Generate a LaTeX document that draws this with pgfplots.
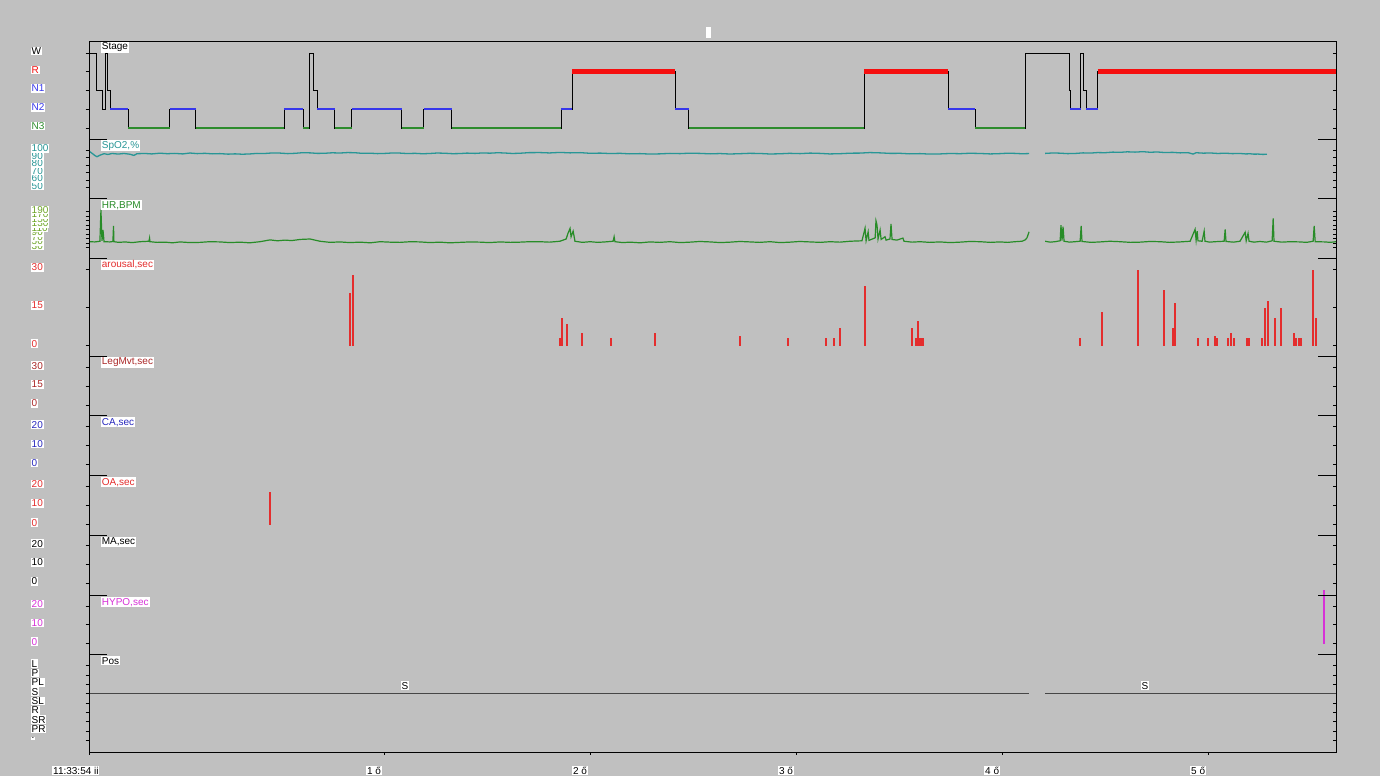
\documentclass[border=0pt]{standalone}
\usepackage{pgfplots}
\pgfplotsset{compat=1.18}
\usepackage{fontspec}
\setmainfont{Liberation Sans}
\definecolor{bg}{RGB}{192,192,192}
\definecolor{stN2}{RGB}{55,55,235}
\definecolor{stN3}{RGB}{45,140,45}
\definecolor{stR}{RGB}{245,15,15}
\definecolor{spo}{RGB}{40,150,150}
\definecolor{hrc}{RGB}{40,140,40}
\definecolor{hrl}{RGB}{110,165,40}
\definecolor{aro}{RGB}{228,45,45}
\definecolor{leg}{RGB}{170,40,40}
\definecolor{cac}{RGB}{40,40,190}
\definecolor{hyp}{RGB}{215,50,215}
\definecolor{posc}{RGB}{70,70,70}
\pgfplotsset{
  panel/.style={
    scale only axis, width=623.5pt, anchor=north west,
    xmin=11.565, xmax=17.618,
    axis line style={draw=none},
    xtick=\empty,
    tick align=center,
    major tick length=1.7pt,
    ytick style={xshift=-0.85pt, black, line width=0.5pt},
    yticklabel style={anchor=west, xshift=-28.4pt, yshift=1pt, fill=white, inner sep=0.4pt, font=\fontsize{5}{5}\selectfont},
    clip mode=individual,
    unbounded coords=jump,
  },
}
\tikzset{
  sep/.style={black, line width=0.5pt},
  ttl/.style={anchor=west, fill=white, inner sep=0.5pt, font=\fontsize{5}{5}\selectfont, xshift=5.75pt, yshift=-3.25pt},
}
\newcommand{\seps}{%
  \draw[sep] (rel axis cs:0,1) -- ([xshift=9pt]rel axis cs:0,1);
  \draw[sep] (rel axis cs:1,1) -- ([xshift=-9pt]rel axis cs:1,1);}
\begin{document}
\begin{tikzpicture}
\fill[bg] (0,0) rectangle (690pt,-388pt);
\fill[white] (353pt,-13.5pt) rectangle (355.5pt,-19pt);

% Stage
\begin{axis}[panel, at={(44.5pt,-20.5pt)}, height=49.15pt, ymin=-0.603, ymax=4.64,
  ytick={0,1,2,3,4},
  yticklabels={\textcolor{stN3}{N3},\textcolor{stN2}{N2},\textcolor{stN2}{N1},\textcolor{stR}{R},W}]
\addplot[const plot, black, line width=0.5pt] coordinates {(11.565,4) (11.599,2) (11.630,1) (11.643,4) (11.654,2) (11.667,1) (11.756,0) (11.958,1) (12.083,0) (12.513,1) (12.606,0) (12.634,4) (12.657,2) (12.673,1) (12.758,0) (12.840,1) (13.084,0) (13.190,1) (13.326,0) (13.858,1) (13.911,3) (14.411,1) (14.476,0) (15.327,3) (15.736,1) (15.867,0) (16.110,4) (16.322,2) (16.327,1) (16.378,4) (16.393,2) (16.406,1) (16.462,3) (17.618,3)};
\addplot[stN2, line width=1pt] coordinates {(11.667,1)(11.756,1)(11.8,nan)(11.958,1)(12.083,1)(12.1,nan)(12.513,1)(12.606,1)(12.62,nan)(12.673,1)(12.758,1)(12.77,nan)(12.840,1)(13.084,1)(13.1,nan)(13.190,1)(13.326,1)(13.4,nan)(13.858,1)(13.911,1)(14.0,nan)(14.411,1)(14.476,1)(14.5,nan)(15.736,1)(15.867,1)(15.9,nan)(16.327,1)(16.378,1)(16.39,nan)(16.406,1)(16.462,1)};
\addplot[stN3, line width=0.75pt] coordinates {(11.756,0)(11.958,0)(12.0,nan)(12.083,0)(12.513,0)(12.55,nan)(12.606,0)(12.634,0)(12.65,nan)(12.758,0)(12.840,0)(12.9,nan)(13.084,0)(13.190,0)(13.2,nan)(13.326,0)(13.858,0)(13.9,nan)(14.476,0)(15.327,0)(15.4,nan)(15.867,0)(16.110,0)};
\addplot[stR, line width=2.3pt] coordinates {(13.911,3)(14.411,3)(14.5,nan)(15.327,3)(15.736,3)(15.8,nan)(16.462,3)(17.618,3)};
\node[ttl] at (rel axis cs:0,1) {Stage};
\end{axis}

% SpO2
\begin{axis}[panel, at={(44.5pt,-69.65pt)}, height=29.7pt, ymin=35.8, ymax=114.6,
  ytick={50,60,70,80,90,100}, yticklabels={50,60,70,80,90,100},
  yticklabel style={text=spo}]
\addplot[spo, line width=0.65pt] coordinates {(11.565,99.0)(11.580,96.0)(11.594,93.0)(11.604,91.5)(11.618,93.5)(11.638,95.5)(11.657,94.5)(11.677,95.8)(11.706,95.0)(11.735,95.8)(11.764,94.8)(11.783,93.2)(11.798,95.5)(11.837,95.8)(11.870,95.2)(11.910,96.2)(11.945,95.5)(11.982,95.9)(12.020,95.2)(12.055,96.4)(12.090,95.6)(12.128,96.0)(12.165,95.3)(12.201,95.6)(12.240,94.9)(12.274,95.3)(12.310,94.8)(12.347,95.2)(12.380,95.9)(12.419,95.8)(12.455,96.5)(12.492,96.3)(12.530,95.6)(12.565,96.0)(12.600,96.8)(12.638,96.6)(12.675,95.9)(12.711,96.1)(12.745,96.7)(12.783,96.4)(12.820,97.0)(12.856,96.8)(12.890,96.0)(12.929,96.2)(12.965,95.6)(13.002,95.9)(13.040,96.5)(13.075,96.3)(13.110,95.7)(13.148,96.0)(13.185,95.4)(13.220,95.8)(13.255,96.4)(13.293,96.1)(13.330,95.5)(13.366,95.7)(13.400,96.3)(13.439,95.9)(13.475,96.5)(13.512,96.2)(13.550,96.8)(13.584,96.4)(13.620,95.8)(13.657,96.1)(13.700,96.9)(13.754,97.0)(13.800,96.5)(13.851,97.2)(13.900,96.6)(13.949,96.9)(14.000,96.0)(14.046,96.3)(14.095,95.7)(14.143,96.0)(14.190,95.3)(14.240,95.6)(14.290,95.0)(14.337,95.3)(14.385,95.9)(14.434,95.6)(14.480,96.2)(14.531,95.9)(14.580,95.3)(14.628,95.7)(14.675,95.1)(14.725,95.5)(14.770,96.0)(14.822,95.8)(14.870,95.1)(14.919,95.4)(14.965,96.0)(15.017,95.6)(15.065,96.3)(15.114,95.9)(15.160,95.2)(15.211,95.5)(15.260,96.2)(15.308,96.3)(15.355,97.0)(15.405,96.6)(15.455,95.9)(15.502,96.0)(15.550,95.3)(15.599,95.6)(15.645,95.0)(15.696,95.2)(15.745,95.8)(15.793,95.5)(15.840,96.1)(15.890,95.8)(15.940,95.2)(15.987,95.6)(16.025,96.2)(16.060,95.9)(16.095,95.4)(16.128,95.7)(16.15,nan)(16.206,95.9)(16.245,96.5)(16.279,96.2)(16.315,95.6)(16.351,95.8)(16.390,96.6)(16.424,96.3)(16.460,97.0)(16.497,96.8)(16.535,97.6)(16.570,97.3)(16.605,98.0)(16.643,97.6)(16.680,98.2)(16.716,97.4)(16.750,97.8)(16.788,97.0)(16.825,97.3)(16.861,96.6)(16.900,96.9)(16.924,95.0)(16.939,96.8)(16.975,96.2)(17.007,96.5)(17.045,95.8)(17.080,96.2)(17.115,95.6)(17.152,95.8)(17.180,95.2)(17.201,95.4)(17.220,94.9)(17.240,95.0)(17.262,94.6)(17.283,94.7)};
\seps
\node[ttl, text=spo] at (rel axis cs:0,1) {SpO2,\%};
\end{axis}

% HR
\begin{axis}[panel, at={(44.5pt,-99.35pt)}, height=29.8pt, ymin=-15.8, ymax=249.1,
  ytick={30,50,70,90,110,130,150,170,190}, yticklabels={30,50,70,90,110,130,150,170,190},
  yticklabel style={text=hrl}]
\addplot[hrc, line width=0.6pt] coordinates {(11.565,58)(11.594,57)(11.618,60)(11.623,200)(11.628,62)(11.633,110)(11.638,58)(11.667,57)(11.681,59)(11.684,128)(11.686,58)(11.710,55)(11.740,57)(11.775,54)(11.813,58)(11.856,60)(11.859,74)(11.861,58)(11.895,55)(11.934,56)(11.970,53)(12.007,57)(12.055,54)(12.104,55)(12.150,58)(12.201,57)(12.250,54)(12.298,56)(12.345,53)(12.395,58)(12.444,66)(12.480,62)(12.516,65)(12.550,63)(12.589,68)(12.638,70)(12.686,60)(12.735,55)(12.783,57)(12.830,54)(12.881,56)(12.930,53)(12.978,58)(13.025,56)(13.075,55)(13.125,58)(13.172,57)(13.220,54)(13.269,56)(13.315,53)(13.366,55)(13.415,57)(13.463,56)(13.510,54)(13.560,57)(13.610,55)(13.657,56)(13.705,58)(13.754,58)(13.800,56)(13.851,60)(13.881,70)(13.890,95)(13.900,117)(13.905,80)(13.915,105)(13.924,60)(13.960,55)(13.997,58)(14.035,55)(14.070,57)(14.109,60)(14.114,80)(14.118,58)(14.155,54)(14.191,56)(14.240,53)(14.288,57)(14.335,55)(14.385,58)(14.435,54)(14.482,56)(14.530,59)(14.580,57)(14.630,54)(14.677,56)(14.725,59)(14.774,57)(14.820,55)(14.871,58)(14.920,54)(14.968,56)(15.015,59)(15.065,57)(15.115,55)(15.162,58)(15.210,56)(15.259,60)(15.317,62)(15.332,118)(15.337,62)(15.347,102)(15.351,64)(15.381,75)(15.385,151)(15.390,132)(15.395,70)(15.405,110)(15.410,68)(15.429,80)(15.434,65)(15.453,70)(15.458,137)(15.463,68)(15.487,65)(15.516,74)(15.521,60)(15.560,56)(15.599,58)(15.645,55)(15.696,57)(15.745,54)(15.793,56)(15.840,59)(15.890,58)(15.940,55)(15.987,57)(16.025,55)(16.060,58)(16.094,60)(16.109,66)(16.118,75)(16.128,102)(16.15,nan)(16.206,60)(16.230,56)(16.254,58)(16.279,62)(16.283,132)(16.288,63)(16.293,125)(16.298,60)(16.325,56)(16.351,58)(16.376,60)(16.381,128)(16.385,59)(16.430,55)(16.473,57)(16.520,60)(16.570,58)(16.620,55)(16.667,56)(16.715,59)(16.764,58)(16.810,55)(16.861,57)(16.910,60)(16.934,113)(16.939,64)(16.944,105)(16.948,62)(16.968,60)(16.978,105)(16.982,60)(17.005,56)(17.031,58)(17.075,60)(17.080,113)(17.084,59)(17.120,56)(17.152,60)(17.177,100)(17.182,62)(17.191,95)(17.196,60)(17.220,56)(17.249,59)(17.280,56)(17.308,62)(17.313,162)(17.317,60)(17.355,56)(17.395,58)(17.444,57)(17.475,55)(17.507,60)(17.512,128)(17.517,58)(17.565,57)(17.590,55)(17.618,58)};
\seps
\node[ttl, text=hrc] at (rel axis cs:0,1) {HR,BPM};
\end{axis}

% arousal
\begin{axis}[panel, at={(44.5pt,-129.15pt)}, height=48.85pt, ymin=-4.04, ymax=34.32,
  ytick={0,15,30}, yticklabels={0,15,30}, yticklabel style={text=aro}]
\addplot[aro, line width=1pt] coordinates {
(12.833,0)(12.833,20.8)(12.833,nan)(12.845,0)(12.845,27.8)(12.845,nan)
(13.851,0)(13.851,2.9)(13.851,nan)(13.863,0)(13.863,10.8)(13.863,nan)
(13.885,0)(13.885,8.5)(13.885,nan)(13.957,0)(13.957,5.0)(13.957,nan)
(14.099,0)(14.099,2.9)(14.099,nan)(14.310,0)(14.310,5.0)(14.310,nan)
(14.725,0)(14.725,3.7)(14.725,nan)(14.959,0)(14.959,2.9)(14.959,nan)
(15.141,0)(15.141,2.9)(15.141,nan)(15.182,0)(15.182,2.9)(15.182,nan)
(15.208,0)(15.208,6.8)(15.208,nan)(15.332,0)(15.332,23.4)(15.332,nan)
(15.559,0)(15.559,6.8)(15.559,nan)(15.577,0)(15.577,2.9)(15.577,nan)
(15.587,0)(15.587,9.7)(15.587,nan)(15.596,0)(15.596,2.9)(15.596,nan)
(15.605,0)(15.605,2.9)(15.605,nan)(15.613,0)(15.613,2.9)(15.613,nan)
(16.377,0)(16.377,2.9)(16.377,nan)(16.483,0)(16.483,13.1)(16.483,nan)
(16.655,0)(16.655,29.7)(16.655,nan)(16.781,0)(16.781,21.9)(16.781,nan)
(16.829,0)(16.829,6.8)(16.829,nan)(16.837,0)(16.837,16.9)(16.837,nan)
(16.948,0)(16.948,2.9)(16.948,nan)(16.996,0)(16.996,2.9)(16.996,nan)
(17.032,0)(17.032,3.8)(17.032,nan)(17.038,0)(17.038,2.9)(17.038,nan)
(17.096,0)(17.096,2.9)(17.096,nan)(17.107,0)(17.107,4.9)(17.107,nan)
(17.125,0)(17.125,2.9)(17.125,nan)(17.185,0)(17.185,2.9)(17.185,nan)
(17.195,0)(17.195,2.9)(17.195,nan)(17.259,0)(17.259,2.9)(17.259,nan)
(17.272,0)(17.272,14.7)(17.272,nan)(17.290,0)(17.290,17.6)(17.290,nan)
(17.321,0)(17.321,10.8)(17.321,nan)(17.352,0)(17.352,14.7)(17.352,nan)
(17.416,0)(17.416,4.9)(17.416,nan)(17.422,0)(17.422,2.9)(17.422,nan)
(17.438,0)(17.438,2.9)(17.438,nan)(17.450,0)(17.450,2.9)(17.450,nan)
(17.508,0)(17.508,29.7)(17.508,nan)(17.520,0)(17.520,10.8)};
\seps
\node[ttl, text=aro] at (rel axis cs:0,1) {arousal,sec};
\end{axis}

% LegMvt
\begin{axis}[panel, at={(44.5pt,-178pt)}, height=29.85pt, ymin=-8.30, ymax=39.34,
  ytick={0,15,30}, yticklabels={0,15,30}, yticklabel style={text=leg}]
\seps
\node[ttl, text=leg] at (rel axis cs:0,1) {LegMvt,sec};
\end{axis}

% CA
\begin{axis}[panel, at={(44.5pt,-207.85pt)}, height=30pt, ymin=-5.59, ymax=25.74,
  ytick={0,10,20}, yticklabels={0,10,20}, yticklabel style={text=cac}]
\seps
\node[ttl, text=cac] at (rel axis cs:0,1) {CA,sec};
\end{axis}

% OA
\begin{axis}[panel, at={(44.5pt,-237.85pt)}, height=29.8pt, ymin=-5.48, ymax=25.32,
  ytick={0,10,20}, yticklabels={0,10,20}, yticklabel style={text=aro}]
\addplot[aro, line width=0.7pt] coordinates {(12.444,0)(12.444,17)};
\addplot[aro, line width=1.2pt] coordinates {(12.444,0)(12.444,10)};
\seps
\node[ttl, text=aro] at (rel axis cs:0,1) {OA,sec};
\end{axis}

% MA
\begin{axis}[panel, at={(44.5pt,-267.65pt)}, height=30.2pt, ymin=-6.60, ymax=25.53,
  ytick={0,10,20}, yticklabels={0,10,20}, yticklabel style={text=black}]
\seps
\node[ttl, text=black] at (rel axis cs:0,1) {MA,sec};
\end{axis}

% HYPO
\begin{axis}[panel, at={(44.5pt,-297.85pt)}, height=29.3pt, ymin=-5.62, ymax=25.46, clip=false,
  ytick={0,10,20}, yticklabels={0,10,20}, yticklabel style={text=hyp}]
\addplot[hyp, line width=0.9pt] coordinates {(17.558,0)(17.558,28.5)};
\seps
\node[ttl, text=hyp] at (rel axis cs:0,1) {HYPO,sec};
\end{axis}

% Pos
\begin{axis}[panel, at={(44.5pt,-327.15pt)}, height=49pt, y dir=reverse, ymin=-1.222, ymax=9.28,
  ytick={0,1,2,3,4,5,6,7,8}, yticklabels={L,P,PL,S,SL,R,SR,PR,.}]
\addplot[posc, line width=0.7pt] coordinates {(11.565,3)(16.128,3)(16.15,nan)(16.206,3)(17.618,3)};
\seps
\node[ttl] at (rel axis cs:0,1) {Pos};
\node[anchor=south, fill=white, inner sep=0.5pt, font=\fontsize{5}{5}\selectfont, yshift=1.5pt] at (axis cs:13.099,3) {S};
\node[anchor=south, fill=white, inner sep=0.5pt, font=\fontsize{5}{5}\selectfont, yshift=1.5pt] at (axis cs:16.691,3) {S};
\end{axis}

% frame and time axis
\begin{axis}[scale only axis, width=623.5pt, height=355.65pt, at={(44.5pt,-20.5pt)}, anchor=north west,
  xmin=11.565, xmax=17.618, ymin=0, ymax=1, ytick=\empty,
  xtick={13,14,15,16,17}, xticklabels={1 ő,2 ő,3 ő,4 ő,5 ő},
  xtick pos=bottom, tick align=outside, major tick length=1.25pt,
  xtick style={black, line width=0.5pt},
  axis line style={black, line width=0.5pt},
  xticklabel style={anchor=north east, fill=white, inner sep=0.4pt, font=\fontsize{5}{5}\selectfont, xshift=-1.2pt, yshift=-5.5pt},
  extra x ticks={11.565}, extra x tick labels={11:33:54 ii},
  extra x tick style={tick label style={xshift=6.6pt}}]
\end{axis}
\pgfresetboundingbox
\useasboundingbox (0,0) rectangle (690pt,-388pt);
\end{tikzpicture}
\end{document}
